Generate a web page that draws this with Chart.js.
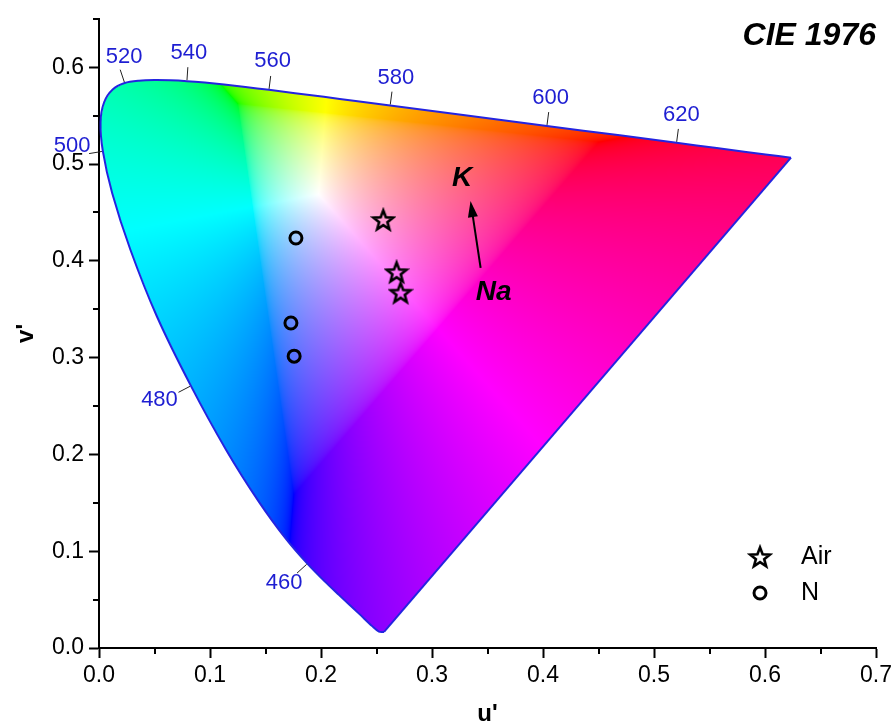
<!DOCTYPE html>
<html lang="en">
<head>
<meta charset="utf-8">
<title>CIE 1976</title>
<style>
  * { margin: 0; padding: 0; }
  body { background: #fff; }
  .chartBox { width: 896px; height: 722px; }
</style>
</head>
<body>
<div class="chartBox"><canvas id="cieChart"></canvas></div>
<script src="https://cdn.jsdelivr.net/npm/chart.js/dist/chart.umd.min.js"></script>
<script>
// spectral locus, CIE 1976 u'v' (2 deg observer)
const locusNm = [380, 420, 430, 440, 450, 455, 460, 465, 470, 475, 480, 485, 490, 495, 500, 505, 510, 515, 520,
                 525, 530, 535, 540, 545, 550, 555, 560, 565, 570, 575, 580, 590, 600, 610, 620, 630, 640, 650, 700];
const locusU = [0.2568, 0.2522, 0.2461, 0.2347, 0.2161, 0.2033, 0.1877, 0.1690, 0.1441, 0.1147, 0.0828, 0.0521, 0.0282, 0.0119, 0.0035, 0.0014, 0.0046, 0.0123, 0.0231,
                0.0360, 0.0501, 0.0643, 0.0792, 0.0953, 0.1127, 0.1319, 0.1531, 0.1766, 0.2026, 0.2312, 0.2623, 0.3315, 0.4035, 0.4692, 0.5203, 0.5565, 0.5830, 0.6005, 0.6234];
const locusV = [0.0166, 0.0169, 0.0226, 0.0350, 0.0549, 0.0688, 0.0871, 0.1119, 0.1510, 0.2044, 0.2708, 0.3427, 0.4117, 0.4698, 0.5131, 0.5432, 0.5638, 0.5770, 0.5837,
                0.5861, 0.5868, 0.5865, 0.5856, 0.5841, 0.5821, 0.5796, 0.5766, 0.5732, 0.5694, 0.5651, 0.5604, 0.5501, 0.5393, 0.5296, 0.5219, 0.5165, 0.5125, 0.5099, 0.5065];

// wavelengths marked on the locus
const labelNm = [460, 480, 500, 520, 540, 560, 580, 600, 620];

// measured points
const airU = [0.2561, 0.2681, 0.2717];
const airV = [0.4422, 0.3883, 0.3671];
const nU = [0.1774, 0.1729, 0.1758];
const nV = [0.4235, 0.3357, 0.3015];

const xTicks = [0, 0.1, 0.2, 0.3, 0.4, 0.5, 0.6, 0.7];
const yTicks = [0, 0.1, 0.2, 0.3, 0.4, 0.5, 0.6];

const FONT = "'Liberation Sans', Arial, sans-serif";
const BLUE = '#1e1ed2';
const whiteU = 0.1978, whiteV = 0.4683;

// 5-point star outline used as point style
function makeStar(size, lw) {
  const c = document.createElement('canvas');
  c.width = size; c.height = size;
  const g = c.getContext('2d');
  const cx = size / 2, cy = size / 2 + 0.8, ro = size / 2 - lw, ri = ro * 0.42;
  g.beginPath();
  for (let i = 0; i < 10; i++) {
    const r = i % 2 ? ri : ro;
    const a = -Math.PI / 2 + i * Math.PI / 5;
    g.lineTo(cx + r * Math.cos(a), cy + r * Math.sin(a));
  }
  g.closePath();
  g.lineWidth = lw;
  g.lineJoin = 'miter';
  g.strokeStyle = '#000';
  g.stroke();
  return c;
}
const starImg = makeStar(26, 2.6);

// colour of a chromaticity: sRGB, out-of-gamut moved toward white, normalised
function uvToRgb(u, v) {
  const d = 6 * u - 16 * v + 12;
  const x = 9 * u / d, y = 4 * v / d;
  if (y <= 0) return [255, 255, 255];
  const X = x / y, Y = 1, Z = (1 - x - y) / y;
  let r = 3.2406 * X - 1.5372 * Y - 0.4986 * Z;
  let g = -0.9689 * X + 1.8758 * Y + 0.0415 * Z;
  let b = 0.0557 * X - 0.2040 * Y + 1.0570 * Z;
  const lo = Math.min(r, g, b, 0);
  r -= lo; g -= lo; b -= lo;
  const m = Math.max(r, g, b) || 1;
  const gam = c => {
    c = c / m;
    c = c <= 0.0031308 ? 12.92 * c : 1.055 * Math.pow(c, 1 / 2.4) - 0.055;
    return Math.round(255 * c);
  };
  return [gam(r), gam(g), gam(b)];
}

const cieFill = {
  id: 'cieFill',
  beforeDatasetsDraw(chart) {
    const { ctx, chartArea: a, scales: { x, y } } = chart;
    const w = Math.ceil(a.width), h = Math.ceil(a.height);
    if (!chart.$bg || chart.$bg.width !== w || chart.$bg.height !== h) {
      const c = document.createElement('canvas');
      c.width = w; c.height = h;
      const g = c.getContext('2d');
      const img = g.createImageData(w, h);
      for (let j = 0; j < h; j++) {
        const v = y.getValueForPixel(a.top + j + 0.5);
        for (let i = 0; i < w; i++) {
          const u = x.getValueForPixel(a.left + i + 0.5);
          const rgb = uvToRgb(u, v);
          const k = (j * w + i) * 4;
          img.data[k] = rgb[0]; img.data[k + 1] = rgb[1]; img.data[k + 2] = rgb[2]; img.data[k + 3] = 255;
        }
      }
      g.putImageData(img, 0, 0);
      chart.$bg = c;
    }
    ctx.save();
    ctx.beginPath();
    locusU.forEach((u, i) => {
      const px = x.getPixelForValue(u), py = y.getPixelForValue(locusV[i]);
      if (i) ctx.lineTo(px, py); else ctx.moveTo(px, py);
    });
    ctx.closePath();
    ctx.clip();
    ctx.drawImage(chart.$bg, a.left, a.top);
    ctx.restore();
  }
};

const cieMarks = {
  id: 'cieMarks',
  afterDraw(chart, args, opts) {
    const { ctx, chartArea: a, scales: { x, y } } = chart;
    ctx.save();

    // minor ticks
    ctx.strokeStyle = '#000';
    ctx.lineWidth = 2;
    ctx.beginPath();
    for (let t = 0.05; t < 0.7; t += 0.1) {
      const px = Math.round(x.getPixelForValue(t));
      ctx.moveTo(px, a.bottom); ctx.lineTo(px, a.bottom + opts.minorLen);
    }
    for (let t = 0.05; t < 0.66; t += 0.1) {
      const py = Math.round(y.getPixelForValue(t));
      ctx.moveTo(a.left, py); ctx.lineTo(a.left - opts.minorLen, py);
    }
    ctx.stroke();

    // wavelength marks
    const wx = x.getPixelForValue(whiteU), wy = y.getPixelForValue(whiteV);
    ctx.font = '22px ' + FONT;
    ctx.textAlign = 'center';
    ctx.textBaseline = 'middle';
    labelNm.forEach(nm => {
      const i = locusNm.indexOf(nm);
      const px = x.getPixelForValue(locusU[i]), py = y.getPixelForValue(locusV[i]);
      const tx = x.getPixelForValue(locusU[i + 1]) - x.getPixelForValue(locusU[i - 1]);
      const ty = y.getPixelForValue(locusV[i + 1]) - y.getPixelForValue(locusV[i - 1]);
      const len = Math.hypot(tx, ty);
      let nx = -ty / len, ny = tx / len;
      if (nx * (px - wx) + ny * (py - wy) < 0) { nx = -nx; ny = -ny; }
      const ex = px + nx * opts.tickLen, ey = py + ny * opts.tickLen;
      ctx.strokeStyle = '#222';
      ctx.lineWidth = 1;
      ctx.beginPath();
      ctx.moveTo(px + nx, py + ny); ctx.lineTo(ex, ey);
      ctx.stroke();
      const off = opts.labelOffsets[nm];
      ctx.fillStyle = BLUE;
      ctx.fillText(String(nm), ex + off[0], ey + off[1]);
    });

    // arrow Na -> K
    const ar = opts.arrow;
    const x0 = x.getPixelForValue(ar.from[0]), y0 = y.getPixelForValue(ar.from[1]);
    const x1 = x.getPixelForValue(ar.to[0]), y1 = y.getPixelForValue(ar.to[1]);
    const ang = Math.atan2(y1 - y0, x1 - x0);
    ctx.strokeStyle = '#000';
    ctx.fillStyle = '#000';
    ctx.lineWidth = 2;
    ctx.beginPath();
    ctx.moveTo(x0, y0);
    ctx.lineTo(x1 - 10 * Math.cos(ang), y1 - 10 * Math.sin(ang));
    ctx.stroke();
    ctx.beginPath();
    ctx.moveTo(x1, y1);
    ctx.lineTo(x1 - 16 * Math.cos(ang) + 5 * Math.sin(ang), y1 - 16 * Math.sin(ang) - 5 * Math.cos(ang));
    ctx.lineTo(x1 - 16 * Math.cos(ang) - 5 * Math.sin(ang), y1 - 16 * Math.sin(ang) + 5 * Math.cos(ang));
    ctx.closePath();
    ctx.fill();

    // text annotations
    opts.texts.forEach(t => {
      ctx.font = t.font;
      ctx.textAlign = t.align;
      ctx.textBaseline = 'middle';
      ctx.fillStyle = '#000';
      ctx.fillText(t.text, x.getPixelForValue(t.u), y.getPixelForValue(t.v));
    });

    // legend
    const lg = opts.legend;
    const sx = a.right - lg.right, sy1 = a.bottom - lg.bottom1, sy2 = a.bottom - lg.bottom2;
    ctx.drawImage(starImg, sx - starImg.width / 2, sy1 - starImg.height / 2);
    ctx.beginPath();
    ctx.arc(sx, sy2, 6, 0, Math.PI * 2);
    ctx.lineWidth = 3;
    ctx.strokeStyle = '#000';
    ctx.stroke();
    ctx.font = '25px ' + FONT;
    ctx.textAlign = 'left';
    ctx.fillStyle = '#000';
    ctx.fillText(chart.data.datasets[0].label, sx + lg.gap, sy1);
    ctx.fillText(chart.data.datasets[1].label, sx + lg.gap, sy2);
    ctx.restore();
  }
};

const toPts = (us, vs) => us.map((u, i) => ({ x: u, y: vs[i] }));
const locusPts = toPts(locusU, locusV);
const purplePts = [locusPts[locusPts.length - 1], locusPts[0]];

new Chart(document.getElementById('cieChart'), {
  type: 'scatter',
  data: {
    datasets: [{
      label: 'Air',
      data: toPts(airU, airV),
      pointStyle: starImg,
      pointRadius: 11
    }, {
      label: 'N',
      data: toPts(nU, nV),
      pointStyle: 'circle',
      pointRadius: 6,
      borderWidth: 3,
      borderColor: '#000',
      backgroundColor: 'rgba(0,0,0,0)'
    }, {
      label: 'locus',
      data: locusPts,
      showLine: true,
      tension: 0.3,
      pointRadius: 0,
      borderColor: '#2424e0',
      borderWidth: 2,
      clip: false
    }, {
      label: 'purple line',
      data: purplePts,
      showLine: true,
      pointRadius: 0,
      borderColor: '#2424e0',
      borderWidth: 2,
      clip: false
    }]
  },
  options: {
    responsive: true,
    maintainAspectRatio: false,
    animation: false,
    events: [],
    layout: { padding: { top: 14, right: 18 } },
    scales: {
      x: {
        type: 'linear',
        min: 0, max: 0.7,
        afterFit: s => { s.height = 74; },
        afterBuildTicks: s => { s.ticks = xTicks.map(v => ({ value: v })); },
        ticks: {
          callback: v => v.toFixed(1),
          color: '#000',
          font: { family: FONT, size: 23 },
          padding: 4,
          maxRotation: 0
        },
        grid: { drawOnChartArea: false, tickLength: 10, tickWidth: 2, tickColor: '#000' },
        border: { color: '#000', width: 2 },
        title: { display: true, text: "u'", color: '#000', font: { family: FONT, size: 24, weight: 'bold' }, padding: { top: 0, bottom: -7 } }
      },
      y: {
        type: 'linear',
        min: 0, max: 0.65,
        afterFit: s => { s.width = 99; },
        afterBuildTicks: s => { s.ticks = yTicks.map(v => ({ value: v })); },
        ticks: {
          callback: v => v.toFixed(1),
          color: '#000',
          font: { family: FONT, size: 23 },
          padding: 5
        },
        grid: { drawOnChartArea: false, tickLength: 10, tickWidth: 2, tickColor: '#000' },
        border: { color: '#000', width: 2 },
        title: { display: true, text: "v'", color: '#000', font: { family: FONT, size: 24, weight: 'bold' }, padding: { top: 12, bottom: 0 } }
      }
    },
    plugins: {
      legend: { display: false },
      tooltip: { enabled: false },
      cieMarks: {
        minorLen: 6,
        tickLen: 14,
        labelOffsets: {
          460: [-13, 10], 480: [-19, 8], 500: [-17, -8], 520: [4, -13], 540: [1, -14],
          560: [2, -15], 580: [4, -14], 600: [2, -14], 620: [3, -14]
        },
        arrow: { from: [0.3438, 0.3927], to: [0.3347, 0.4617] },
        texts: [
          { text: 'CIE 1976', u: 0.7, v: 0.632, align: 'right', font: 'italic bold 32px ' + FONT },
          { text: 'K', u: 0.3272, v: 0.4848, align: 'center', font: 'italic bold 28px ' + FONT },
          { text: 'Na', u: 0.3555, v: 0.3671, align: 'center', font: 'italic bold 28px ' + FONT }
        ],
        legend: { right: 116, bottom1: 91, bottom2: 55, gap: 41 }
      }
    }
  },
  plugins: [cieFill, cieMarks]
});
</script>
</body>
</html>
